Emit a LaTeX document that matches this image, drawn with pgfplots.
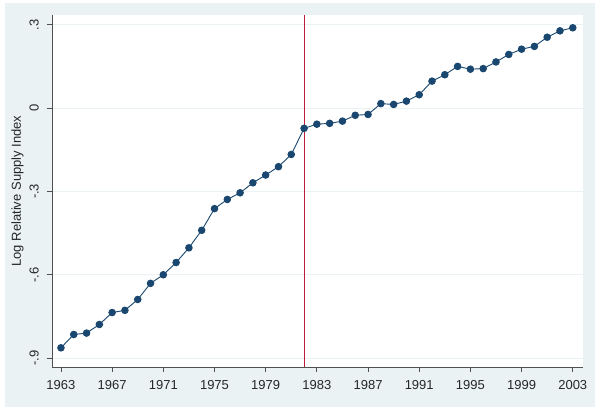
\documentclass[border=0pt]{standalone}
\usepackage{fontspec}
\setmainfont{Liberation Sans}
\usepackage{pgfplots}
\pgfplotsset{compat=1.18}
\definecolor{bgc}{RGB}{234,242,243}
\definecolor{snavy}{RGB}{26,71,111}
\definecolor{sred}{RGB}{190,30,60}
\definecolor{axc}{RGB}{80,80,80}
\begin{document}
\begin{tikzpicture}[x=1pt,y=1pt]
\fill[white] (0,0) rectangle (600,411);
\fill[bgc] (5,4) rectangle (595,408);
\begin{axis}[
  at={(52pt,44pt)}, anchor=south west,
  scale only axis, width=531pt, height=352pt,
  xmin=1962.3, xmax=2003.8, ymin=-0.932, ymax=0.335,
  axis background/.style={fill=white},
  axis x line*=bottom, axis y line*=left,
  axis line style={-, draw=axc, line width=0.8pt},
  tick align=outside, major tick length=5pt,
  tick style={draw=axc, line width=0.8pt},
  xtick={1963,1967,1971,1975,1979,1983,1987,1991,1995,1999,2003},
  xticklabels={1963,1967,1971,1975,1979,1983,1987,1991,1995,1999,2003},
  ytick={-0.9,-0.6,-0.3,0,0.3},
  yticklabels={-.9,-.6,-.3,0,.3},
  ymajorgrids, grid style={draw=bgc, line width=0.8pt},
  yticklabel style={font=\fontsize{13}{15}\selectfont, text=black!85, anchor=south, inner sep=0pt, xshift=-8pt, rotate=90},
  xticklabel style={font=\fontsize{13}{15}\selectfont, text=black!85, anchor=north, inner sep=0pt, yshift=-8.5pt},
  ylabel={Log Relative Supply Index},
  ylabel style={at={([xshift=-34.5pt]axis description cs:0,0.5)}, anchor=center, font=\fontsize{13}{15}\selectfont, text=black!85},
  clip=false,
]
\addplot[sred, line width=0.8pt] coordinates {(1982,-0.932) (1982,0.335)};
\addplot[snavy, line width=0.9pt, mark=*, mark size=3.3pt, mark options={fill=snavy, draw=snavy}] coordinates {
(1963,-0.863) (1964,-0.815) (1965,-0.810) (1966,-0.779) (1967,-0.736) (1968,-0.728)
(1969,-0.689) (1970,-0.631) (1971,-0.600) (1972,-0.556) (1973,-0.503) (1974,-0.440)
(1975,-0.362) (1976,-0.329) (1977,-0.305) (1978,-0.269) (1979,-0.241) (1980,-0.211)
(1981,-0.167) (1982,-0.073) (1983,-0.058) (1984,-0.055) (1985,-0.047) (1986,-0.026)
(1987,-0.023) (1988,0.016) (1989,0.013) (1990,0.025) (1991,0.048) (1992,0.097)
(1993,0.120) (1994,0.150) (1995,0.140) (1996,0.142) (1997,0.166) (1998,0.193)
(1999,0.212) (2000,0.222) (2001,0.255) (2002,0.278) (2003,0.289)
};
\end{axis}
\end{tikzpicture}
\end{document}
